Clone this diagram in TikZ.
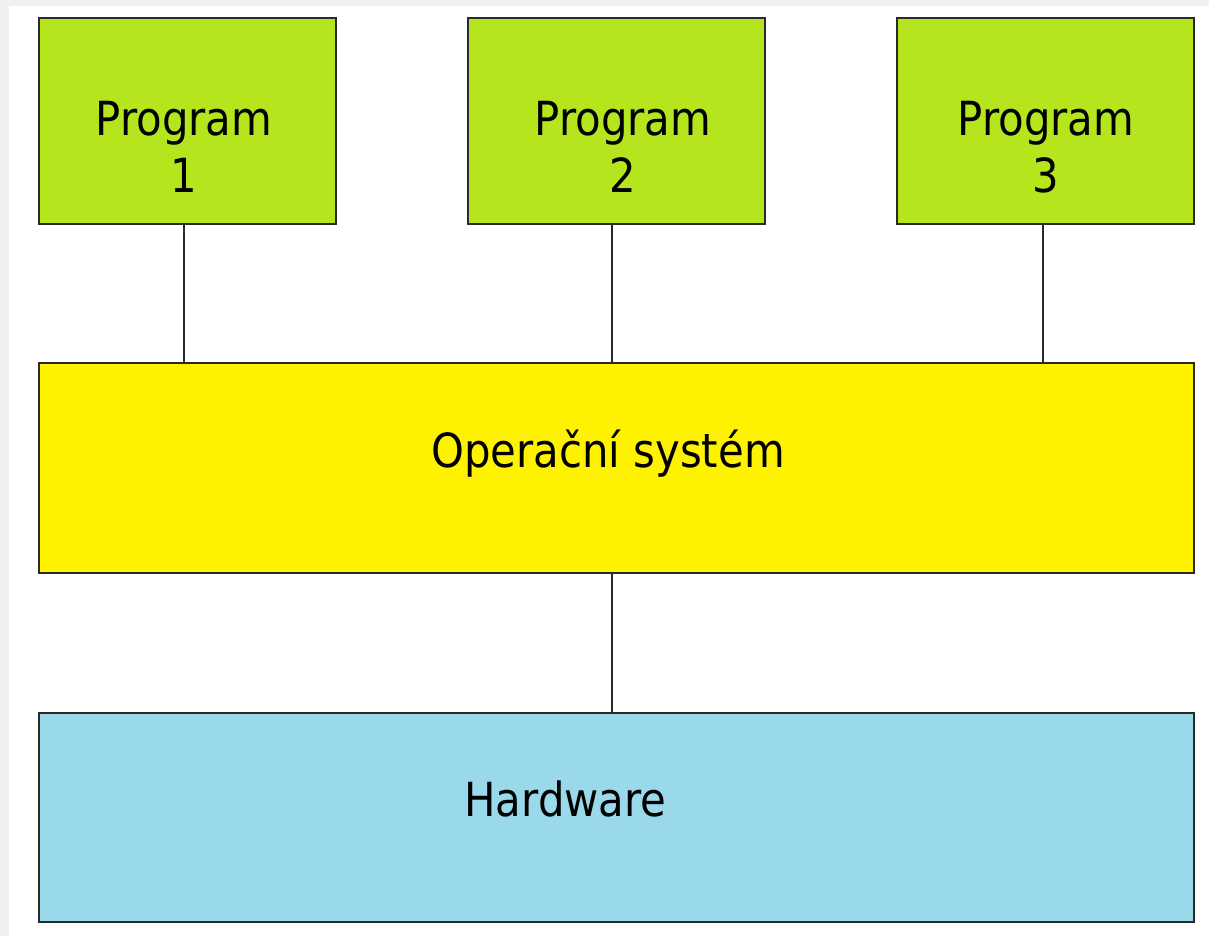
\documentclass[tikz,border=0pt]{standalone}
\usepackage{fontspec}
\setmainfont{DejaVu Sans}[FakeStretch=0.89]
\definecolor{lime}{HTML}{B5E61D}
\definecolor{osyellow}{HTML}{FFF200}
\definecolor{hwblue}{HTML}{99D9EA}
\definecolor{frame}{HTML}{F0F0F0}
\definecolor{edge}{HTML}{2A2A2A}
\begin{document}
\begin{tikzpicture}[x=1pt,y=-1pt,
  box/.style={draw=edge, line width=2.2pt, inner sep=0pt},
  lbl/.style={inner sep=0pt, anchor=base, font=\fontsize{47}{56}\selectfont},
  link/.style={draw=edge, line width=1.4pt}]
  % page background with the thin grey frame on the left and top
  \fill[white] (0,0) rectangle (1209,936);
  \fill[frame] (0,0) rectangle (9,936);
  \fill[frame] (0,0) rectangle (1209,6);
  \useasboundingbox (0,0) rectangle (1209,936);

  % program boxes
  \node[box, fill=lime, minimum width=297pt, minimum height=206pt] (p1) at (187.5,121) {};
  \node[box, fill=lime, minimum width=297pt, minimum height=206pt] (p2) at (616.5,121) {};
  \node[box, fill=lime, minimum width=297pt, minimum height=206pt] (p3) at (1045.5,121) {};

  % operating system and hardware layers
  \node[box, fill=osyellow, minimum width=1155pt, minimum height=210pt] (os) at (616.5,468) {};
  \node[box, fill=hwblue, minimum width=1155pt, minimum height=209pt] (hw) at (616.5,817.5) {};

  % labels
  \node[lbl] (p1a) at (184,136) {Program};
  \node[lbl] (p1b) at (184,193) {1};
  \node[lbl] (p2a) at (623,136) {Program};
  \node[lbl] (p2b) at (623,193) {2};
  \node[lbl] (p3a) at (1046,136) {Program};
  \node[lbl] (p3b) at (1046,193) {3};
  \node[lbl] (osl) at (608,467) {Operační systém};
  \node[lbl] (hwl) at (565.5,816) {Hardware};

  % connections between layers
  \coordinate (c1) at (184,363);
  \coordinate (c2) at (612,363);
  \coordinate (c3) at (1043,363);
  \coordinate (c1t) at (184,224);
  \coordinate (c2t) at (612,224);
  \coordinate (c3t) at (1043,224);
  \draw[link] (c1t) -- (c1);
  \draw[link] (c2t) -- (c2);
  \draw[link] (c3t) -- (c3);
  \draw[link] (os.south -| c2) -- (hw.north -| c2);
\end{tikzpicture}
\end{document}
